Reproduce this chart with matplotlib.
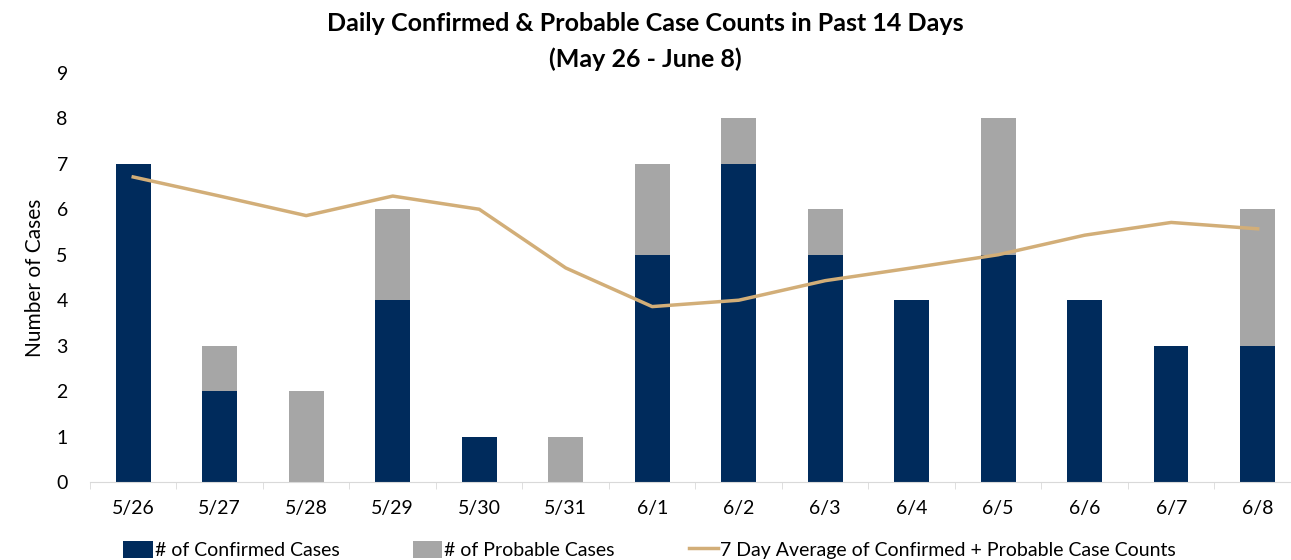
import numpy as np
import matplotlib
matplotlib.use("Agg")
import matplotlib.pyplot as plt
from matplotlib.ticker import FixedLocator

# ------------------------------------------------------------------ data
dates = ["5/26", "5/27", "5/28", "5/29", "5/30", "5/31", "6/1",
         "6/2", "6/3", "6/4", "6/5", "6/6", "6/7", "6/8"]
confirmed = [7, 2, 0, 4, 1, 0, 5, 7, 5, 4, 5, 4, 3, 3]
probable = [0, 1, 2, 2, 0, 1, 2, 1, 1, 0, 3, 0, 0, 3]
avg7 = [6.71, 6.29, 5.86, 6.29, 6.0, 4.71, 3.86, 4.0, 4.43, 4.71, 5.0, 5.43, 5.71, 5.57]

NAVY, GREY, TAN = "#002B5C", "#A6A6A6", "#D2AE78"

plt.rcParams["font.family"] = ["Lato", "DejaVu Sans"]

fig = plt.figure(figsize=(12.91, 5.6), dpi=100)
ax = fig.add_axes([0.0697, 0.139, 0.938, 0.731])

x = np.arange(len(dates))
b1 = ax.bar(x, confirmed, width=0.4, color=NAVY, label="# of Confirmed Cases", zorder=2)
b2 = ax.bar(x, probable, width=0.4, bottom=confirmed, color=GREY,
            label="# of Probable Cases", zorder=2)
ln, = ax.plot(x, avg7, color=TAN, lw=2.5, zorder=3,
              label="7 Day Average of Confirmed + Probable Case Counts")

ax.set_xlim(-0.5, len(dates) - 0.5)
ax.set_ylim(0, 9)
ax.set_yticks(range(0, 10))
ax.set_xticks(x)
ax.set_xticklabels(dates)
ax.tick_params(axis="x", length=0, pad=13, labelsize=14)
ax.tick_params(axis="y", length=0, pad=16, labelsize=14)
ax.xaxis.set_minor_locator(FixedLocator(np.arange(-0.5, len(dates), 1.0)))
ax.tick_params(axis="x", which="minor", length=5, color="#D9D9D9")

for s in ["top", "right", "left"]:
    ax.spines[s].set_visible(False)
ax.spines["bottom"].set_color("#D9D9D9")

ax.set_ylabel("Number of Cases", fontsize=15, labelpad=8)
fig.text(0.5, 0.958, "Daily Confirmed & Probable Case Counts in Past 14 Days",
         ha="center", va="center", fontsize=18, fontweight="bold")
fig.text(0.5, 0.895, "(May 26 - June 8)",
         ha="center", va="center", fontsize=18, fontweight="bold")

ax.legend(handles=[b1, b2, ln], loc="upper center", bbox_to_anchor=(0.462, -0.1),
          ncol=3, frameon=False, fontsize=14, handlelength=1.5, handleheight=1.0,
          handletextpad=0.1, columnspacing=3.8)

fig.savefig("out.png", dpi=100)
